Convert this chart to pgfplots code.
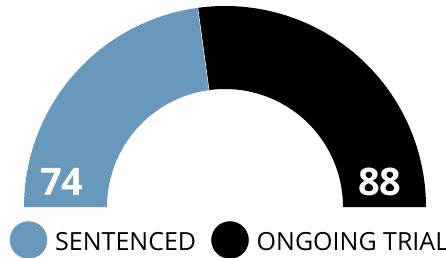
\documentclass[border=0pt]{standalone}
\usepackage{pgfplots}
\usepackage{pgfplotstable}
\pgfplotsset{compat=1.18}
\usepackage{fontspec}
\setmainfont{Open Sans}
\definecolor{sblue}{HTML}{6898BC}
\pgfplotstableread{
label value
Sentenced 74
Ongoing 88
}\data
\pgfplotstablegetelem{0}{value}\of\data \let\vA\pgfplotsretval
\pgfplotstablegetelem{1}{value}\of\data \let\vB\pgfplotsretval
\pgfmathsetmacro\split{180-180*\vA/(\vA+\vB)}
\begin{document}
\begin{tikzpicture}
\useasboundingbox (0,0) rectangle (446pt,257pt);
\begin{axis}[hide axis, scale only axis, width=446pt, height=257pt,
  xmin=0, xmax=446, ymin=0, ymax=257, at={(0,0)}, anchor=south west, clip=false]
\fill[sblue] (axis cs:225,50) ++(180:201pt) arc[start angle=180, end angle=\split, radius=201pt]
  -- ([shift={(\split:118pt)}]axis cs:225,50) arc[start angle=\split, end angle=180, radius=118pt] -- cycle;
\fill[black] (axis cs:225,50) ++(\split:201pt) arc[start angle=\split, end angle=0, radius=201pt]
  -- ([shift={(0:118pt)}]axis cs:225,50) arc[start angle=0, end angle=\split, radius=118pt] -- cycle;
\draw[white!85!sblue, line width=0.6pt] ([shift={(\split:118pt)}]axis cs:225,50) -- ([shift={(\split:201pt)}]axis cs:225,50);
\addplot[only marks, mark=*, mark size=18.5pt, sblue] coordinates {(28.5,17)};
\addplot[only marks, mark=*, mark size=18.5pt, black] coordinates {(230,17)};
\node[anchor=base west, inner sep=0pt, text=white, font=\fontsize{38}{40}\selectfont\bfseries] at (axis cs:40,62) {\vA};
\node[anchor=base west, inner sep=0pt, text=white, font=\fontsize{38}{40}\selectfont\bfseries] at (axis cs:358,62) {\vB};
\node[anchor=base west, inner sep=0pt, font=\fontsize{25}{27}\selectfont] at (axis cs:55,7) {SENTENCED};
\node[anchor=base west, inner sep=0pt, font=\fontsize{25}{27}\selectfont] at (axis cs:256.5,7) {ONGOING TRIAL};
\end{axis}
\end{tikzpicture}
\end{document}
